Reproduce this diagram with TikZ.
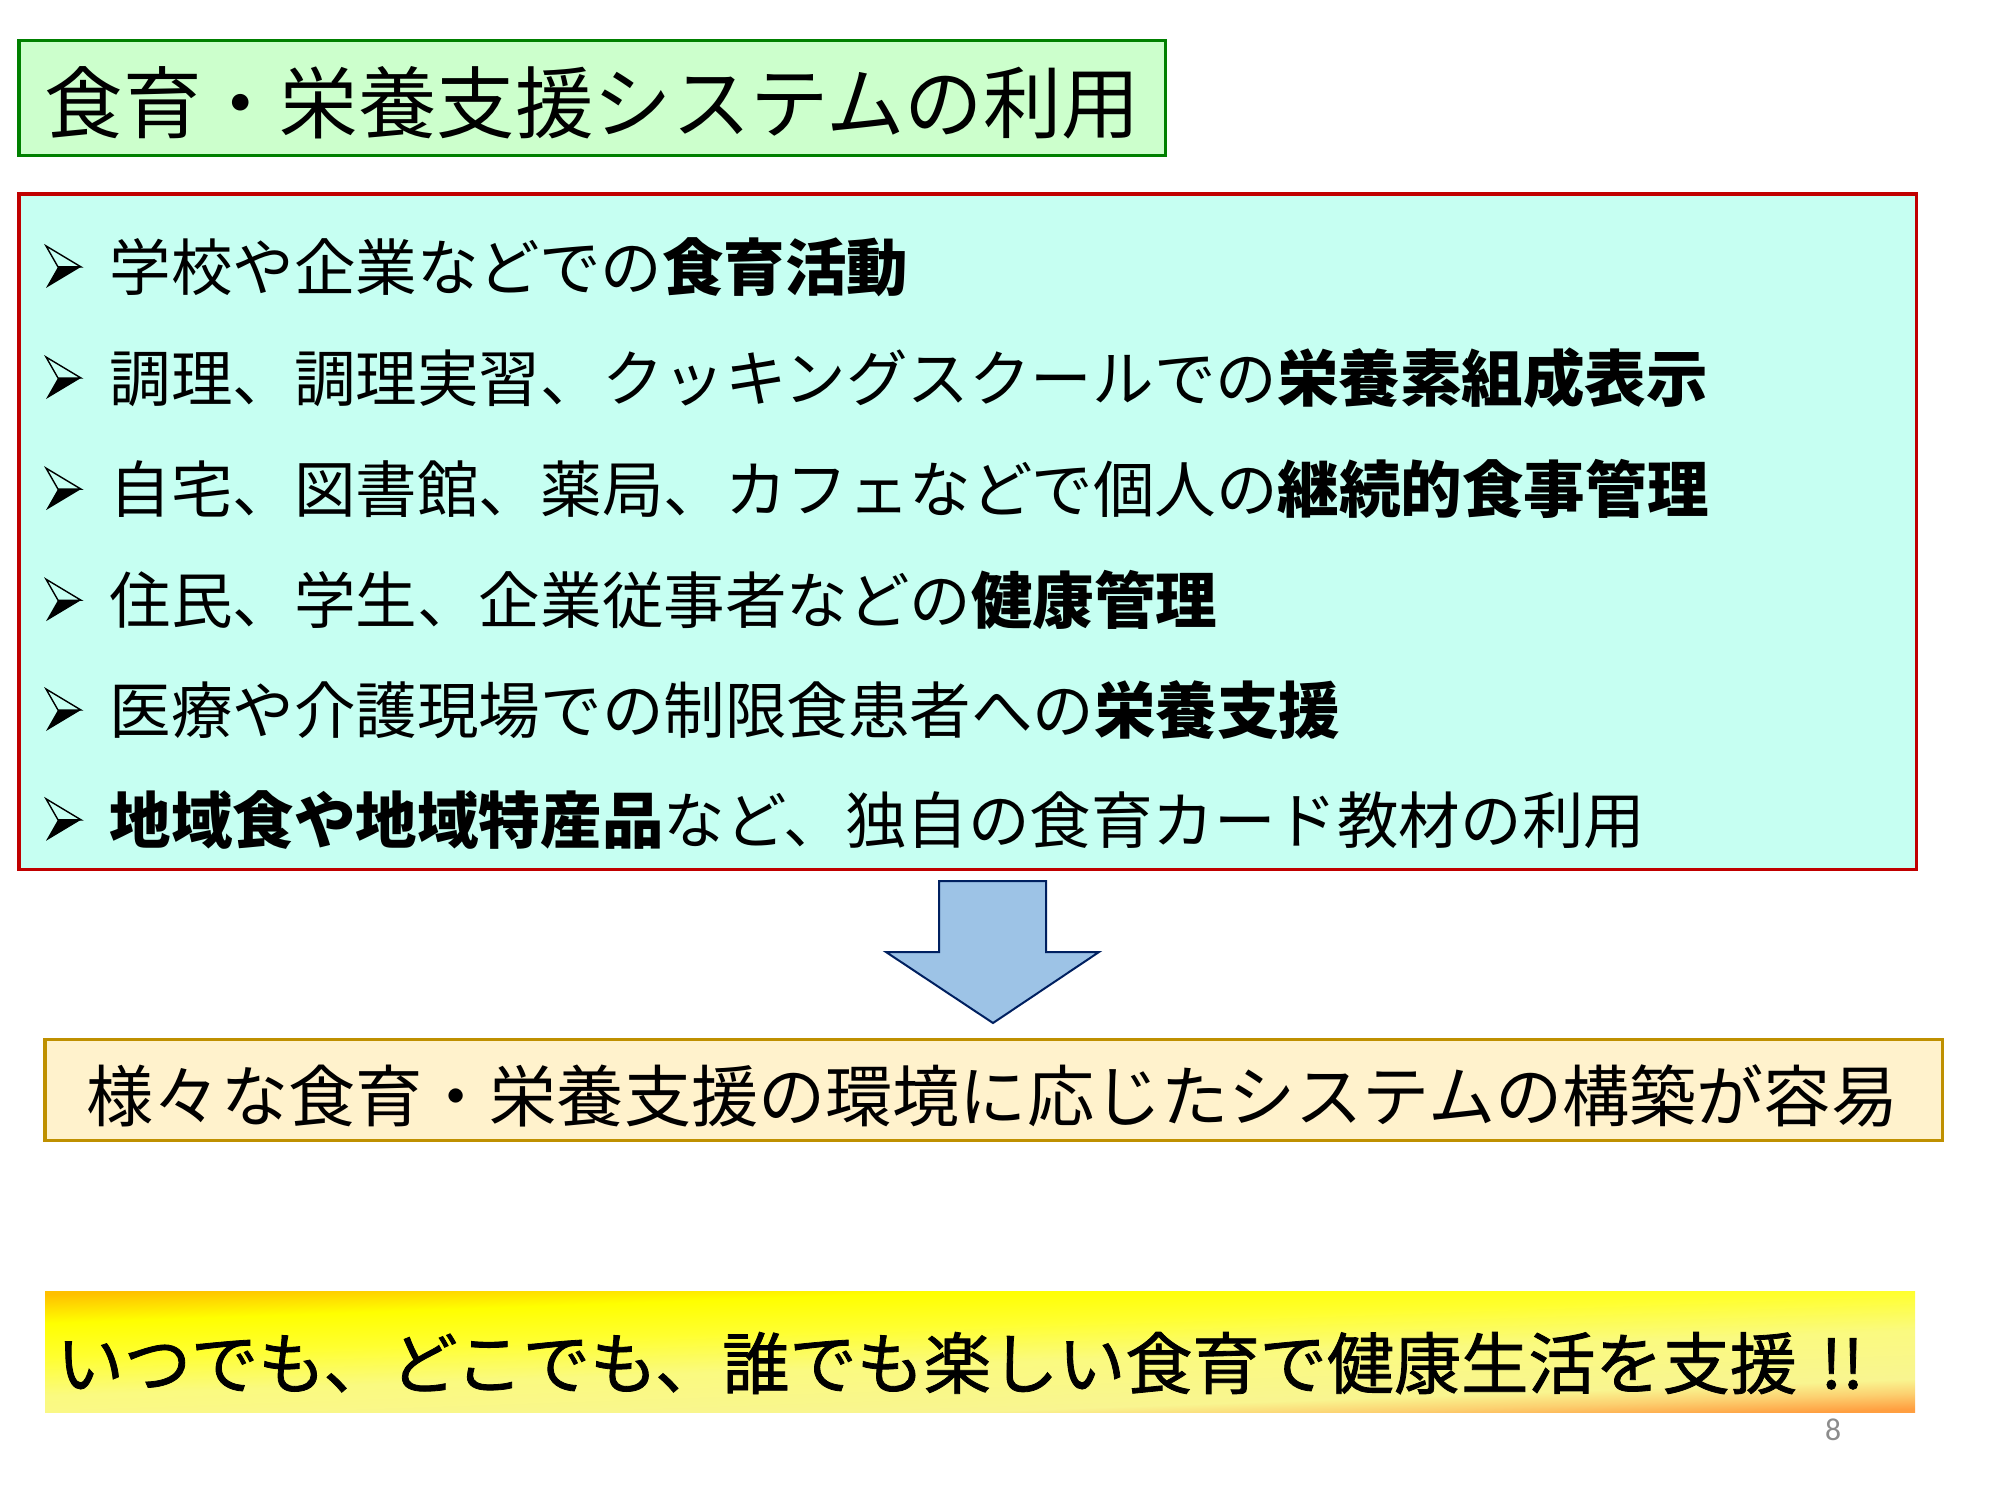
\documentclass[tikz,border=0pt]{standalone}
\usepackage{fontspec}
\setmainfont{Noto Sans CJK JP}
\newfontfamily\slogfont[FakeBold=1.2]{Noto Sans CJK JP}
\newfontfamily\numfont{Carlito}
\definecolor{titlefill}{HTML}{CCFFCC}
\definecolor{titledraw}{HTML}{008000}
\definecolor{listfill}{HTML}{C6FFF2}
\definecolor{listdraw}{HTML}{C00000}
\definecolor{arrowfill}{HTML}{9DC3E6}
\definecolor{arrowdraw}{HTML}{002060}
\definecolor{resfill}{HTML}{FFF2CC}
\definecolor{resdraw}{HTML}{BF9000}
\definecolor{barA}{HTML}{FF9F40}
\definecolor{barB}{HTML}{FCD070}
\definecolor{barC}{HTML}{F9F590}
\definecolor{barD}{HTML}{FAFA80}
\definecolor{barE}{HTML}{FFFF30}
\definecolor{barF}{HTML}{FFFF00}
\definecolor{barG}{HTML}{FFE000}
\definecolor{barH}{HTML}{FFC000}
\definecolor{pagegray}{HTML}{8C8C8C}
\pgfdeclareverticalshading{barshade}{100bp}{color(0bp)=(barA); color(25bp)=(barA); color(29.3bp)=(barB); color(33.3bp)=(barC); color(46.8bp)=(barD); color(57.5bp)=(barE); color(67bp)=(barF); color(71bp)=(barG); color(75bp)=(barH); color(100bp)=(barH)}
\begin{document}
\begin{tikzpicture}[x=0.01cm,y=0.01cm,
  boxline/.style={line width=0.03cm},
  itemtext/.style={anchor=base west, inner sep=0pt, font=\fontsize{17.5pt}{20pt}\selectfont},
  bigtext/.style={anchor=base west, inner sep=0pt, font=\fontsize{19.1pt}{22pt}\selectfont},
  bul/.pic={
    \fill[black] (-23,0) -- (0,0) -- (-35,-21) -- cycle;
    \draw[black, line width=0.4pt, line join=miter] (-35,21) -- (0,0) -- (-23,0) -- cycle;
  }]
\useasboundingbox (0,0) rectangle (2000,-1500);
% title box
\draw[boxline, draw=titledraw, fill=titlefill] (19,-41) rectangle (1165,-156);
\node[anchor=base west, inner sep=0pt, font=\fontsize{22.3pt}{26pt}\selectfont] (title) at (44,-132.8) {食育・栄養支援システムの利用};
% list box
\draw[boxline, draw=listdraw, fill=listfill] (19,-194) rectangle (1916,-869);
\foreach \yc in {266.9,378.0,489.1,600.2,710.0,819.8}{
  \pic at (81,-\yc) {bul};
}
\node[itemtext] (i1) at (109,-290.3) {学校や企業などでの{\bfseries 食育活動}};
\node[itemtext] (i2) at (109,-401.4) {調理、調理実習、クッキングスクールでの{\bfseries 栄養素組成表示}};
\node[itemtext] (i3) at (109,-512.5) {自宅、図書館、薬局、カフェなどで個人の{\bfseries 継続的食事管理}};
\node[itemtext] (i4) at (109,-623.6) {住民、学生、企業従事者などの{\bfseries 健康管理}};
\node[itemtext] (i5) at (109,-733.4) {医療や介護現場での制限食患者への{\bfseries 栄養支援}};
\node[itemtext] (i6) at (109,-843.2) {{\bfseries 地域食や地域特産品}など、独自の食育カード教材の利用};
% block arrow
\draw[line width=0.02cm, draw=arrowdraw, fill=arrowfill, line join=miter]
  (939,-881) -- (1046,-881) -- (1046,-952) -- (1099,-952) -- (993,-1023) -- (886,-952) -- (939,-952) -- cycle;
% result box
\draw[boxline, draw=resdraw, fill=resfill] (45,-1039) rectangle (1942,-1140);
\node[bigtext] (res) at (86,-1121.5) {様々な食育・栄養支援の環境に応じたシステムの構築が容易};
% gradient bar
\shade[shading=barshade, shading angle=2] (45,-1291) rectangle (1915,-1412);
\node[bigtext, font=\slogfont\fontsize{19.1pt}{22pt}\selectfont] (slogan) at (56,-1388.5) {いつでも、どこでも、誰でも楽しい食育で健康生活を支援\hspace{0.35em}!!};
% page number
\node[inner sep=0pt, text=pagegray, font=\numfont\fontsize{9pt}{10pt}\selectfont] (pg) at (1833,-1430) {8};
\end{tikzpicture}
\end{document}
